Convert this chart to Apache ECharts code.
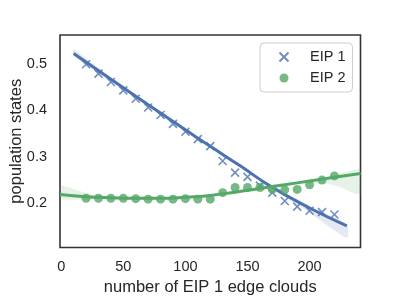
<!DOCTYPE html>
<html>
<head>
<meta charset="utf-8">
<script src="https://cdn.jsdelivr.net/npm/echarts@6/dist/echarts.min.js"></script>
<style>html,body{margin:0;padding:0;background:#fff;}#c{width:400px;height:298px;}</style>
</head>
<body>
<div id="c"></div>
<script>
// ---- data ----
var xValues = [20, 30, 40, 50, 60, 70, 80, 90, 100, 110, 120, 130, 140, 150, 160, 170, 180, 190, 200, 210, 220];
var eip1 = [0.499, 0.479, 0.461, 0.443, 0.425, 0.406, 0.390, 0.371, 0.354, 0.338, 0.323, 0.291, 0.266, 0.257, 0.238, 0.223, 0.205, 0.193, 0.184, 0.181, 0.176];
var eip2 = [0.211, 0.211, 0.211, 0.211, 0.210, 0.209, 0.209, 0.209, 0.210, 0.209, 0.209, 0.223, 0.234, 0.234, 0.234, 0.230, 0.229, 0.230, 0.240, 0.250, 0.259];

// fitted regression curves and their confidence bands
var blueFitX = [10, 40, 70, 100, 120, 145, 168, 200, 230];
var blueFit  = [0.522, 0.467, 0.412, 0.358, 0.3225, 0.279, 0.2376, 0.190, 0.1516];
var blueHi   = [0.531, 0.471, 0.415, 0.361, 0.3255, 0.282, 0.241, 0.193, 0.155];
var blueLo   = [0.517, 0.464, 0.409, 0.355, 0.3195, 0.276, 0.234, 0.180, 0.126];

var greenFitX = [-1, 20, 40, 60, 80, 100, 120, 140, 160, 180, 200, 220, 241];
var greenFit  = [0.219, 0.214, 0.212, 0.211, 0.211, 0.213, 0.217, 0.224, 0.232, 0.240, 0.248, 0.256, 0.264];
var greenHi   = [0.238, 0.222, 0.216, 0.214, 0.214, 0.216, 0.220, 0.227, 0.235, 0.243, 0.251, 0.261, 0.272];
var greenLo   = [0.210, 0.209, 0.209, 0.208, 0.208, 0.210, 0.214, 0.221, 0.229, 0.237, 0.244, 0.239, 0.220];

var xTicks = [0, 50, 100, 150, 200];
var yTicks = [0.2, 0.3, 0.4, 0.5];
var seriesNames = ['EIP 1', 'EIP 2'];

// ---- build ----
var BLUE = '#4c72b0', GREEN = '#55a868';
var FONT = '"Liberation Sans", Arial, sans-serif';
function pairs(xs, ys) { return xs.map(function (x, i) { return [x, ys[i]]; }); }

function band(name, xs, hi, lo, color, z) {
  return {
    type: 'custom', name: name, data: [[xs[0], lo[0]]], z: z, silent: true, clip: true,
    renderItem: function (params, api) {
      var pts = [];
      for (var i = 0; i < xs.length; i++) pts.push(api.coord([xs[i], hi[i]]));
      for (var j = xs.length - 1; j >= 0; j--) pts.push(api.coord([xs[j], lo[j]]));
      return { type: 'polygon', shape: { points: pts, smooth: 0.25 },
        style: { fill: color, opacity: 0.15 } };
    }
  };
}

var chart = echarts.init(document.getElementById('c'), null, { renderer: 'canvas' });
var series = [];
series.push({
  type: 'scatter', name: seriesNames[0], data: pairs(xValues, eip1),
  symbol: 'path://M0,0L10,10M10,0L0,10', symbolSize: 8,
  itemStyle: { color: 'none', borderColor: BLUE, borderWidth: 1.6, opacity: 0.8 }, z: 2
});
series.push(band('bband', blueFitX, blueHi, blueLo, BLUE, 3));
series.push({ type: 'line', name: 'bfit', data: pairs(blueFitX, blueFit), smooth: true, symbol: 'none',
  lineStyle: { color: BLUE, width: 3 }, z: 4 });
series.push({
  type: 'scatter', name: seriesNames[1], data: pairs(xValues, eip2),
  symbol: 'circle', symbolSize: 9,
  itemStyle: { color: GREEN, opacity: 0.8 }, z: 5
});
series.push(band('gband', greenFitX, greenHi, greenLo, GREEN, 6));
series.push({ type: 'line', name: 'gfit', data: pairs(greenFitX, greenFit), smooth: true, symbol: 'none',
  lineStyle: { color: GREEN, width: 3 }, z: 7 });

chart.setOption({
  animation: false,
  backgroundColor: '#ffffff',
  textStyle: { fontFamily: FONT },
  grid: { left: 60, right: 39.5, top: 35, bottom: 50.5, show: true, containLabel: false, outerBoundsMode: 'none',
    borderColor: '#333333', borderWidth: 1.6, backgroundColor: 'transparent' },
  legend: {
    data: seriesNames, orient: 'vertical', left: 260, top: 43,
    padding: [6, 7, 6, 17], itemGap: 5, itemWidth: 28, itemHeight: 9,
    borderColor: '#cccccc', borderWidth: 1, borderRadius: 4, backgroundColor: '#ffffff',
    textStyle: { fontFamily: FONT, fontSize: 14.5, color: '#262626', padding: [0, 0, 0, 7], lineHeight: 16 }
  },
  xAxis: {
    type: 'value', min: -1, max: 241,
    name: 'number of EIP 1 edge clouds', nameLocation: 'middle', nameGap: 31, nameMoveOverlap: false,
    nameTextStyle: { fontFamily: FONT, fontSize: 16.5, color: '#262626' },
    axisLine: { show: false }, axisTick: { show: false }, splitLine: { show: false },
    axisLabel: { customValues: xTicks, fontFamily: FONT, fontSize: 14.5, color: '#262626', margin: 12 }
  },
  yAxis: {
    type: 'value', min: 0.105, max: 0.562,
    name: 'population states', nameLocation: 'middle', nameGap: 35, nameMoveOverlap: false,
    nameTextStyle: { fontFamily: FONT, fontSize: 16.5, color: '#262626' },
    axisLine: { show: false }, axisTick: { show: false }, splitLine: { show: false },
    axisLabel: { customValues: yTicks, fontFamily: FONT, fontSize: 14.5, color: '#262626', margin: 13,
      formatter: function (v) { return v.toFixed(1); } }
  },
  series: series
});
</script>
</body>
</html>
